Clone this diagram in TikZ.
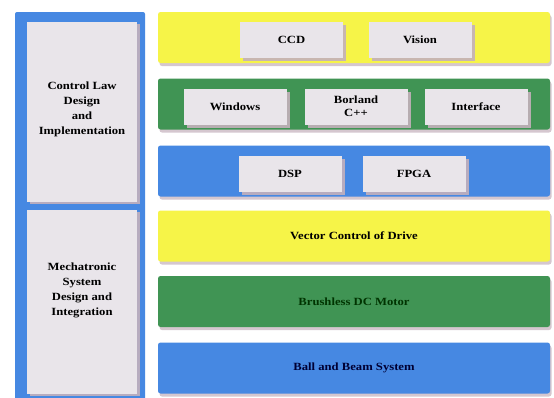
\documentclass[tikz,border=0pt]{standalone}
\usepackage{fontspec}
\setmainfont{Liberation Serif}[FakeStretch=1.15]
\usetikzlibrary{shadows}

\definecolor{layeryellow}{RGB}{246,244,72}
\definecolor{layergreen}{RGB}{64,148,84}
\definecolor{layerblue}{RGB}{70,136,226}
\definecolor{unitgray}{RGB}{233,229,234}
\definecolor{shadowpink}{RGB}{196,176,188}

\tikzset{
    layer/.style={rounded corners=2.5pt, minimum width=392pt, minimum height=51pt,
        inner sep=0pt, font=\fontsize{11}{14}\selectfont\bfseries,
        drop shadow={shadow xshift=1.5pt, shadow yshift=-3pt, fill=shadowpink, opacity=0.7}},
    unit/.style={fill=unitgray, minimum width=103pt, minimum height=36pt, inner sep=0pt,
        align=center, font=\fontsize{11}{13}\selectfont\bfseries,
        drop shadow={shadow xshift=3pt, shadow yshift=-3pt, fill=shadowpink, opacity=0.9}},
    topic/.style={fill=unitgray, minimum width=110pt, inner sep=0pt,
        drop shadow={shadow xshift=3pt, shadow yshift=-2pt, fill=shadowpink, opacity=0.9}},
    topictext/.style={align=center, font=\fontsize{11}{15}\selectfont\bfseries}
}

\begin{document}
\begin{tikzpicture}[x=1pt, y=-1pt]
    \useasboundingbox (0,0) rectangle (554,397);
    \fill[white] (0,0) rectangle (554,397);

    %% Left frame with the two design topics
    \fill[layerblue, rounded corners=2pt] (15,12) rectangle (145,402);
    \node[topic, minimum height=180pt] (lawbox) at (82,112) {};
    \node[topic, minimum height=184pt] (mechbox) at (82,302) {};
    \node[topictext] (lawtext) at (82,109) {Control Law\\Design\\and\\Implementation};
    \node[topictext] (mechtext) at (82,290) {Mechatronic\\System\\Design and\\Integration};

    %% The six layers
    \node[layer, fill=layeryellow] (vision) at (354,37.5) {};
    \node[layer, fill=layergreen] (software) at (354,104) {};
    \node[layer, fill=layerblue] (hardware) at (354,171) {};
    \node[layer, fill=layeryellow, text=black] (drive) at (354,236) {Vector Control of Drive};
    \node[layer, fill=layergreen, text=black!80!green] (motor) at (354,301.5) {Brushless DC Motor};
    \node[layer, fill=layerblue, text=black!80!blue] (plant) at (354,368) {Ball and Beam System};

    %% Units inside the upper layers
    \node[unit] (ccd) at (291.5,40) {CCD};
    \node[unit] (cam) at (420,40) {Vision};
    \node[unit] (windows) at (235,106.5) {Windows};
    \node[unit] (borland) at (356,106.5) {Borland\\C++};
    \node[unit] (interface) at (476,106.5) {Interface};
    \node[unit] (dsp) at (290,174) {DSP};
    \node[unit] (fpga) at (414,174) {FPGA};
\end{tikzpicture}
\end{document}
